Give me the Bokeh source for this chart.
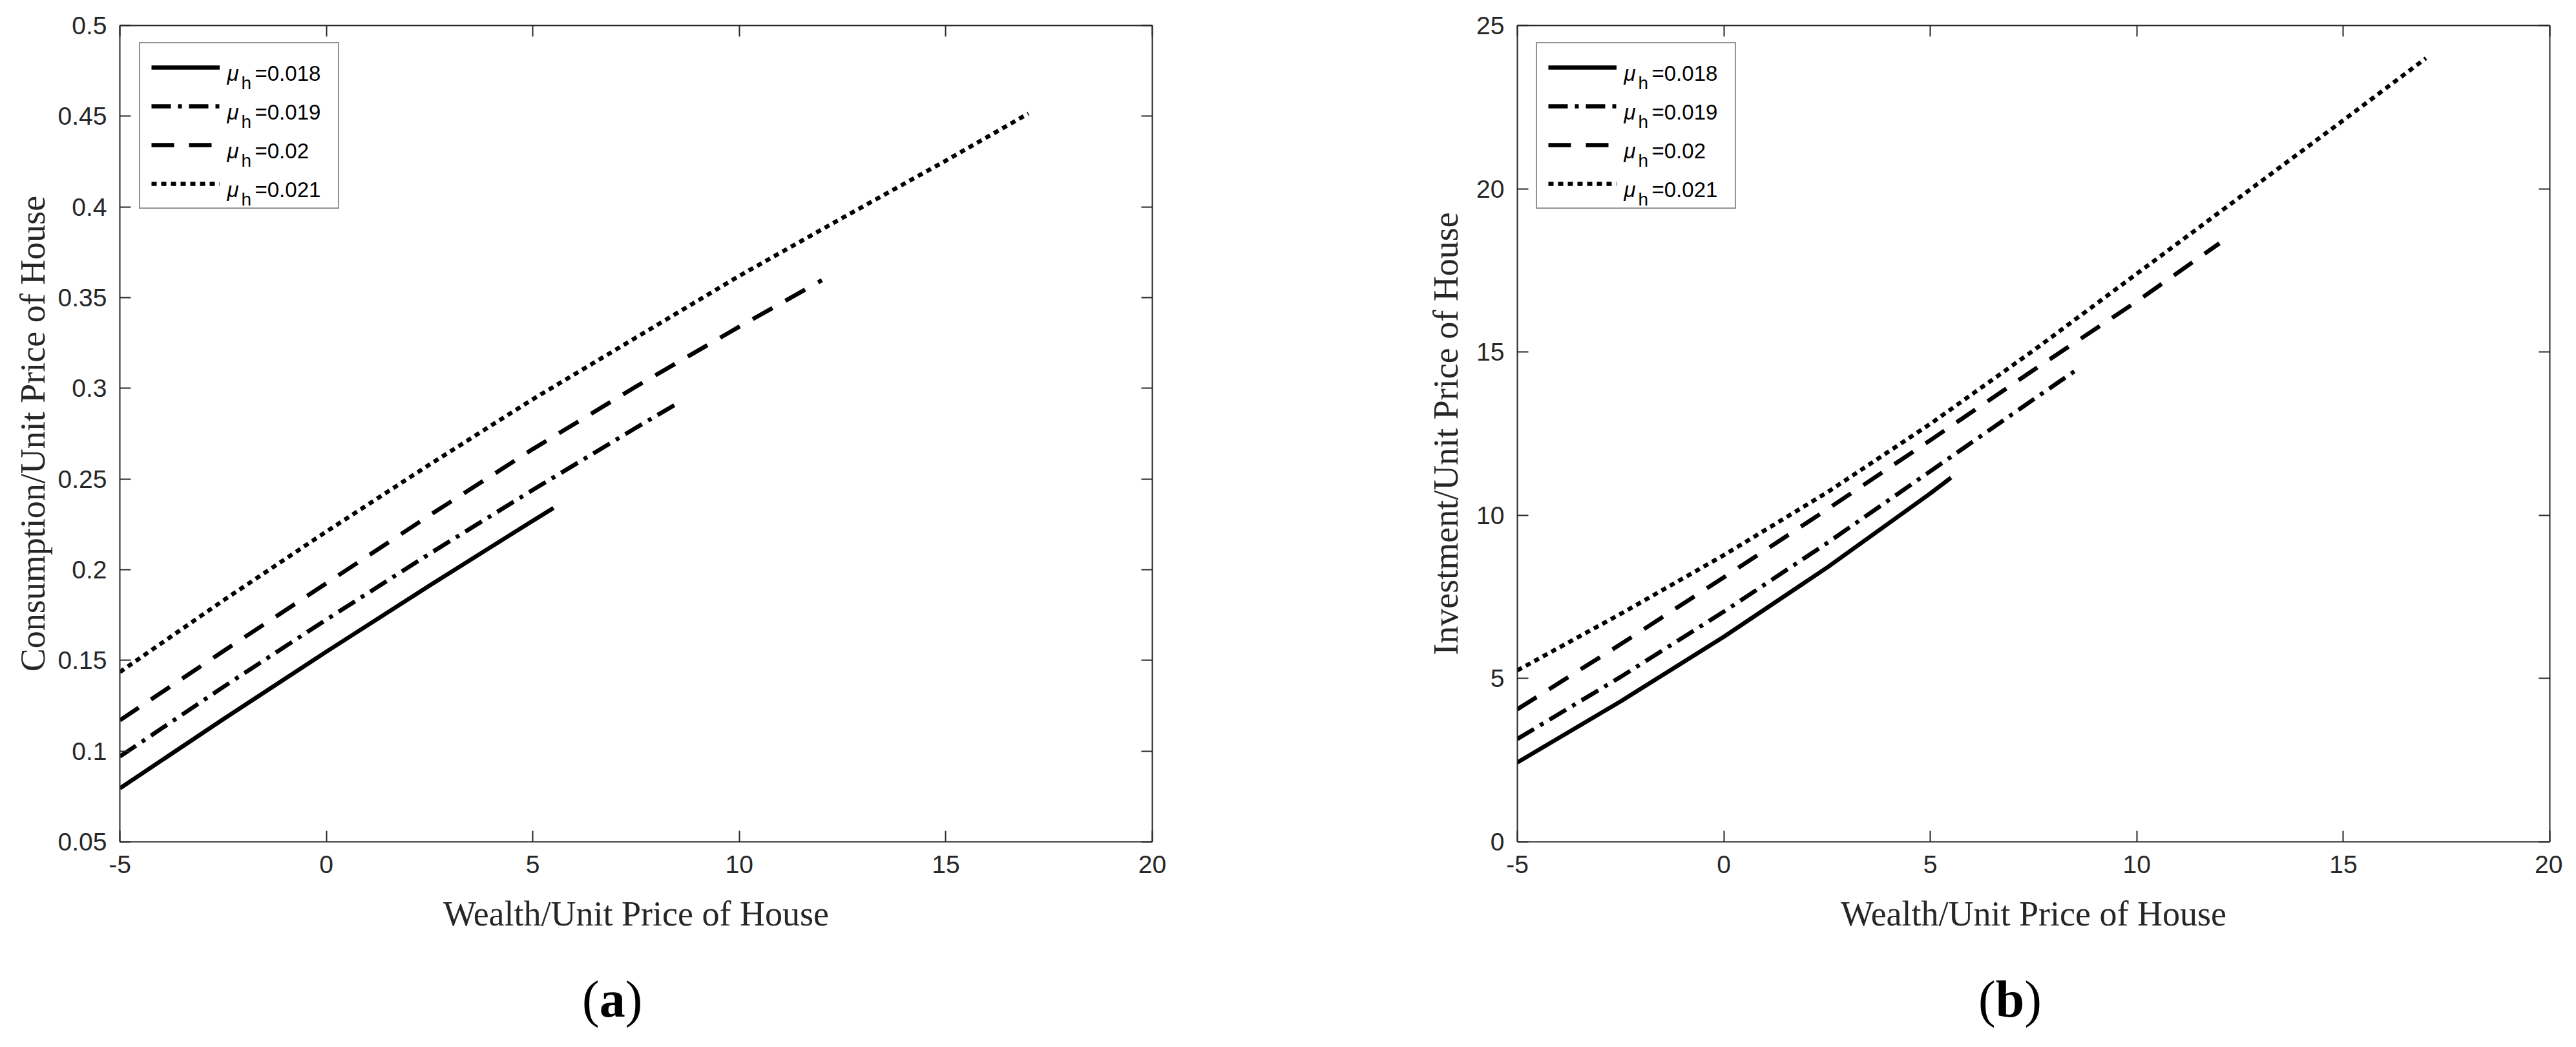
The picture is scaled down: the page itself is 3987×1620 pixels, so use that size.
from bokeh.plotting import figure
from bokeh.models import LinearAxis, FixedTicker, Range1d, Legend, LegendItem, Label, Div
from bokeh.layouts import row, column
from bokeh.embed import file_html
from bokeh.resources import INLINE

# ---------------- data ----------------
SERIES_NAMES = ["0.018", "0.019", "0.02", "0.021"]
PANEL_LETTERS = ["a", "b"]

X_018 = [-5, -2.5, 0, 2.5, 5, 5.5]
X_019 = [-5, -2.5, 0, 2.5, 5, 7.5, 8.5]
X_020 = [-5, -2.5, 0, 2.5, 5, 7.5, 10, 12]
X_021 = [-5, -2.5, 0, 2.5, 5, 7.5, 10, 12.5, 15, 17]

# (a) Consumption / unit price of house
CONS_018 = [0.0795, 0.1175, 0.1548, 0.1913, 0.2270, 0.2340]
CONS_019 = [0.0970, 0.1353, 0.1725, 0.2088, 0.2440, 0.2783, 0.2917]
CONS_020 = [0.1170, 0.1550, 0.1925, 0.2300, 0.2665, 0.3010, 0.3340, 0.3596]
CONS_021 = [0.1436, 0.1830, 0.2210, 0.2580, 0.2940, 0.3280, 0.3620, 0.3940, 0.4255, 0.4515]

# (b) Investment / unit price of house
INV_018 = [2.43, 4.30, 6.28, 8.40, 10.67, 11.15]
INV_019 = [3.15, 5.05, 7.05, 9.15, 11.35, 13.55, 14.42]
INV_020 = [4.06, 6.05, 8.10, 10.18, 12.30, 14.45, 16.55, 18.33]
INV_021 = [5.25, 6.98, 8.78, 10.70, 12.80, 15.05, 17.40, 19.75, 22.10, 24.00]

X_TICKS = [-5, 0, 5, 10, 15, 20]
X_TICK_LABELS = ["-5", "0", "5", "10", "15", "20"]
YA_TICKS = [0.05, 0.1, 0.15, 0.2, 0.25, 0.3, 0.35, 0.4, 0.45, 0.5]
YA_TICK_LABELS = ["0.05", "0.1", "0.15", "0.2", "0.25", "0.3", "0.35", "0.4", "0.45", "0.5"]
YB_TICKS = [0, 5, 10, 15, 20, 25]
YB_TICK_LABELS = ["0", "5", "10", "15", "20", "25"]

X_LABEL = "Wealth/Unit Price of House"
YA_LABEL = "Consumption/Unit Price of House"
YB_LABEL = "Investment/Unit Price of House"

# ---------------- style ----------------
AXIS_COLOR = "#262626"
DASHES = ["solid", "30 11 6 11", "35 23", "8 7"]
FRAME_W = 1598
FRAME_H = 1263
BORDER_TOP = 39
FIG_H = 1506
TICK_FONT = "Liberation Sans"
LABEL_FONT = "Liberation Serif"


def style_axis(ax, ticks, labels, show):
    ax.ticker = FixedTicker(ticks=ticks)
    ax.axis_line_color = AXIS_COLOR
    ax.axis_line_width = 2
    ax.major_tick_line_color = AXIS_COLOR
    ax.major_tick_line_width = 2
    ax.major_tick_in = 17
    ax.major_tick_out = 0
    ax.minor_tick_line_color = None
    if show:
        ax.major_label_overrides = {t: s for t, s in zip(ticks, labels)}
        ax.major_label_text_font = TICK_FONT
        ax.major_label_text_font_size = "39px"
        ax.major_label_text_color = AXIS_COLOR
    else:
        ax.major_label_overrides = {t: "" for t in ticks}
        ax.major_label_text_font_size = "1px"
        ax.major_label_standoff = 0


def make_panel(xs_list, ys_list, ylabel, yticks, ytick_labels, yrange,
               border_left, border_right, y_label_standoff, legend_x):
    width = border_left + FRAME_W + border_right
    p = figure(width=width, height=FIG_H,
               x_range=Range1d(-5, 20), y_range=Range1d(*yrange),
               output_backend="svg", toolbar_location=None,
               min_border_left=border_left, min_border_right=border_right,
               min_border_top=BORDER_TOP, min_border_bottom=FIG_H - BORDER_TOP - FRAME_H)
    p.grid.visible = False
    p.outline_line_color = None
    p.background_fill_color = "white"
    p.border_fill_color = "white"

    renderers = []
    for xs, ys, dash in zip(xs_list, ys_list, DASHES):
        r = p.line(xs, ys, line_color="black", line_width=6.5, line_dash=dash,
                   line_cap="butt", line_join="round")
        renderers.append(r)

    xa = p.xaxis[0]
    style_axis(xa, X_TICKS, X_TICK_LABELS, True)
    xa.major_label_standoff = 21
    xa.axis_label = X_LABEL
    xa.axis_label_standoff = 30

    ya = p.yaxis[0]
    style_axis(ya, yticks, ytick_labels, True)
    ya.major_label_standoff = 20
    ya.axis_label = ylabel
    ya.axis_label_standoff = y_label_standoff

    for ax in (xa, ya):
        ax.axis_label_text_font = LABEL_FONT
        ax.axis_label_text_font_style = "normal"
        ax.axis_label_text_font_size = "54px"
        ax.axis_label_text_color = AXIS_COLOR

    top = LinearAxis()
    style_axis(top, X_TICKS, X_TICK_LABELS, False)
    p.add_layout(top, "above")
    right = LinearAxis()
    style_axis(right, yticks, ytick_labels, False)
    p.add_layout(right, "right")

    items = [LegendItem(label=" ", renderers=[r]) for r in renderers]
    leg = Legend(items=items, location=(legend_x, 979), orientation="vertical",
                 glyph_width=106, glyph_height=40, label_height=40, label_width=153,
                 label_standoff=13, spacing=20, padding=17, margin=0,
                 border_line_color=AXIS_COLOR, border_line_width=2,
                 background_fill_color="white", background_fill_alpha=0.0,
                 label_text_font_size="1px")
    p.add_layout(leg)

    for i, name in enumerate(SERIES_NAMES):
        base = FRAME_H - 74 - 60 * i
        p.add_layout(Label(x=legend_x + 136, y=base, x_units="screen", y_units="screen",
                           text="μ", text_font=TICK_FONT, text_font_style="italic",
                           text_font_size="33px", text_color="black",
                           text_baseline="alphabetic", text_align="left"))
        p.add_layout(Label(x=legend_x + 158, y=base - 15, x_units="screen", y_units="screen",
                           text="h", text_font=TICK_FONT, text_font_size="28px",
                           text_color="black", text_baseline="alphabetic", text_align="left"))
        p.add_layout(Label(x=legend_x + 179, y=base, x_units="screen", y_units="screen",
                           text="=" + name, text_font=TICK_FONT, text_font_size="33px",
                           text_color="black", text_baseline="alphabetic", text_align="left"))
    return p, width


pa, wa = make_panel([X_018, X_019, X_020, X_021], [CONS_018, CONS_019, CONS_020, CONS_021],
                    YA_LABEL, YA_TICKS, YA_TICK_LABELS, (0.05, 0.5),
                    185, 200, 6, 30)
pb, wb = make_panel([X_018, X_019, X_020, X_021], [INV_018, INV_019, INV_020, INV_021],
                    YB_LABEL, YB_TICKS, YB_TICK_LABELS, (0, 25),
                    365, 20, 14, 29)


def panel_tag(letter, indent, width):
    html = ('<div style="margin:0;padding:0;margin-left:%dpx;font-family:\'Liberation Serif\';'
            'font-size:80px;line-height:80px;color:black;white-space:nowrap">'
            '(<b>%s</b>)</div>' % (indent, letter))
    return Div(text=html, width=width, height=100, margin=0)


tag_a = panel_tag(PANEL_LETTERS[0], 901, wa)
tag_b = panel_tag(PANEL_LETTERS[1], 1079, wb)

layout = column(row(pa, pb), row(tag_a, tag_b))
open("out.html", "w").write(file_html(layout, INLINE, title="Consumption and investment"))
